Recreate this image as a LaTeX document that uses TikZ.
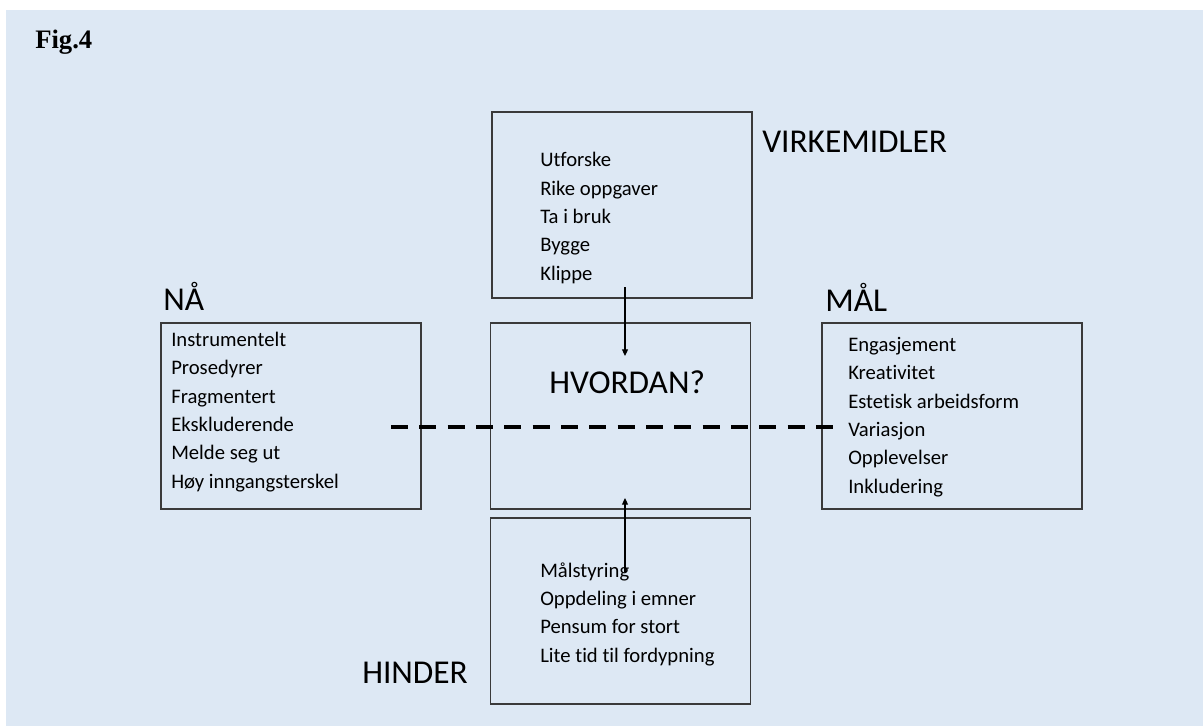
\documentclass[tikz,border=0pt]{standalone}
\usepackage{fontspec}
\setmainfont{Carlito}[Ligatures={NoCommon,NoDiscretionary}]
\newfontfamily\figfont{Liberation Serif}
\usetikzlibrary{arrows.meta}

\def\px{0.75pt}
\definecolor{bgblue}{HTML}{DDE8F4}
\definecolor{boxline}{HTML}{3A3A3A}

\tikzset{
    box/.style={draw=boxline,line width=0.8pt,minimum width=260*\px,minimum height=186*\px,inner sep=0pt},
    title/.style={font=\fontsize{25}{30}\selectfont,inner sep=0pt,anchor=base west},
    items/.style={font=\fontsize{15.5}{21.25}\selectfont,align=left,inner sep=0pt,anchor=base west},
    pointer/.style={line width=0.8pt,-{Triangle[length=5pt,width=4.5pt]}}
}

\begin{document}
\begin{tikzpicture}[x=\px,y=-\px]
    \useasboundingbox (0,0) rectangle (1203,726);
    \fill [bgblue] (6,10) rectangle (1203,726);

    \node [font=\figfont\bfseries\fontsize{20}{24}\selectfont,inner sep=0pt,anchor=base west] (fig) at (35,48) {Fig.4};

    % boxes
    \node [box] (virk) at (622,205) {};
    \node [box] (hvordan) at (620.5,416) {};
    \node [box] (naa) at (291,416) {};
    \node [box] (maal) at (952,416) {};
    \node [box] (hinder) at (620.5,611) {};

    % headings
    \node [title] (virkTitle) at (762,152) {VIRKEMIDLER};
    \node [title] (naaTitle) at (163,310) {NÅ};
    \node [title] (maalTitle) at (825,311) {MÅL};
    \node [title] (hinderTitle) at (362,683) {HINDER};
    \node [title] (hvordanTitle) at (549,393) {HVORDAN?};

    % lists (placed by the baseline of the last line)
    \node [items] (virkList) at (540,280) {Utforske\\Rike oppgaver\\Ta i bruk\\Bygge\\Klippe};
    \node [items] (naaList) at (171,488) {Instrumentelt\\Prosedyrer\\Fragmentert\\Ekskluderende\\Melde seg ut\\Høy inngangsterskel};
    \node [items] (maalList) at (848,493) {Engasjement\\Kreativitet\\Estetisk arbeidsform\\Variasjon\\Opplevelser\\Inkludering};
    \node [items] (hinderList) at (540,662) {Målstyring\\Oppdeling i emner\\Pensum for stort\\Lite tid til fordypning};

    % arrows and divider
    \coordinate (virkFoot) at (625,287);
    \coordinate (hvordanTop) at (625,356);
    \coordinate (hinderHead) at (625,572);
    \coordinate (hvordanBottom) at (625,498);
    \draw [pointer] (virkFoot) -- (hvordanTop);
    \draw [pointer] (hinderHead) -- (hvordanBottom);

    \coordinate (splitLeft) at (391,427);
    \coordinate (splitRight) at (838,427);
    \draw [line width=2.3pt,dash pattern=on 12.75pt off 8.5pt] (splitLeft) -- (splitRight);
\end{tikzpicture}
\end{document}
